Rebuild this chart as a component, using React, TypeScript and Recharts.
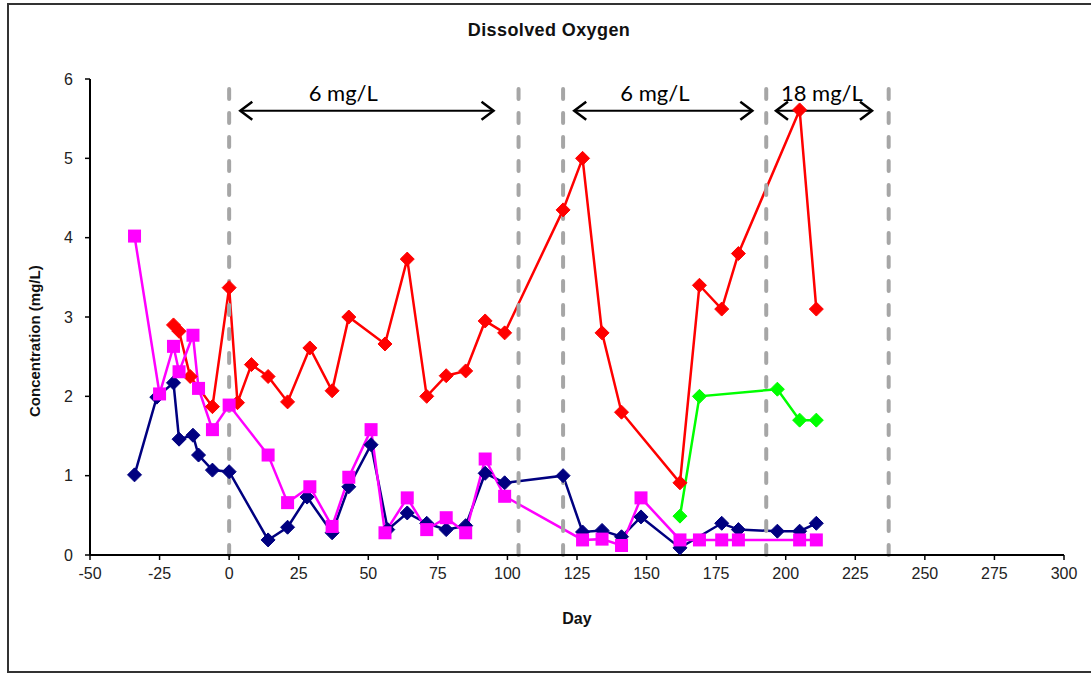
import React from "react";
import { LineChart, Line, XAxis, YAxis, ReferenceLine } from "recharts";

// days and values
const navyDays = [-34, -26, -20, -18, -13, -11, -6, 0, 14, 21, 28, 37, 43, 51, 57, 64, 71, 78, 85, 92, 99, 120, 127, 134, 141, 148, 162, 177, 183, 197, 205, 211];
const navyValues = [1.01, 1.99, 2.17, 1.46, 1.51, 1.26, 1.07, 1.05, 0.19, 0.35, 0.73, 0.28, 0.86, 1.39, 0.32, 0.53, 0.4, 0.32, 0.37, 1.03, 0.91, 1.0, 0.29, 0.31, 0.23, 0.48, 0.09, 0.4, 0.32, 0.3, 0.3, 0.4];

const redDays = [-20, -18, -14, -6, 0, 3, 8, 14, 21, 29, 37, 43, 56, 64, 71, 78, 85, 92, 99, 120, 127, 134, 141, 162, 169, 177, 183, 205, 211];
const redValues = [2.9, 2.82, 2.25, 1.87, 3.37, 1.92, 2.4, 2.25, 1.93, 2.61, 2.07, 3.0, 2.66, 3.73, 2.0, 2.26, 2.32, 2.95, 2.8, 4.35, 5.0, 2.8, 1.8, 0.91, 3.4, 3.1, 3.8, 5.61, 3.1];

const pinkDays = [-34, -25, -20, -18, -13, -11, -6, 0, 14, 21, 29, 37, 43, 51, 56, 64, 71, 78, 85, 92, 99, 127, 134, 141, 148, 162, 169, 177, 183, 205, 211];
const pinkValues = [4.02, 2.03, 2.63, 2.31, 2.77, 2.1, 1.58, 1.89, 1.26, 0.66, 0.86, 0.36, 0.98, 1.58, 0.28, 0.72, 0.32, 0.47, 0.28, 1.21, 0.74, 0.19, 0.2, 0.12, 0.72, 0.19, 0.19, 0.19, 0.19, 0.19, 0.19];

const greenDays = [162, 169, 197, 205, 211];
const greenValues = [0.49, 2.0, 2.09, 1.7, 1.7];

const phaseLines = [0, 104, 120, 193, 237];

const arrows = [
  { from: 4, to: 95, label: "6 mg/L", labelAt: 41 },
  { from: 124, to: 188, label: "6 mg/L", labelAt: 153 },
  { from: 196.5, to: 231, label: "18 mg/L", labelAt: 213 },
];
const arrowLevel = 5.6;

const xTicks = [-50, -25, 0, 25, 50, 75, 100, 125, 150, 175, 200, 225, 250, 275, 300];
const yTicks = [0, 1, 2, 3, 4, 5, 6];

const toRows = (days: number[], values: number[]) =>
  days.map((day, i) => ({ day, value: values[i] }));

const navy = toRows(navyDays, navyValues);
const red = toRows(redDays, redValues);
const pink = toRows(pinkDays, pinkValues);
const green = toRows(greenDays, greenValues);

const font = "'Liberation Sans', Arial, sans-serif";

const diamond = (color: string) => (props: any) => {
  const { cx, cy, index } = props;
  if (cx == null || cy == null) return <g key={index} />;
  const r = 7;
  return (
    <path
      key={index}
      d={`M${cx},${cy - r}L${cx + r},${cy}L${cx},${cy + r}L${cx - r},${cy}Z`}
      fill={color}
      stroke={color}
      strokeWidth={1}
    />
  );
};

const square = (color: string) => (props: any) => {
  const { cx, cy, index } = props;
  if (cx == null || cy == null) return <g key={index} />;
  const r = 6.5;
  return <rect key={index} x={cx - r} y={cy - r} width={2 * r} height={2 * r} fill={color} />;
};

const arrowShape = (a: { from: number; to: number; label: string; labelAt: number }) => (props: any) => {
  const { x1, y1, x2 } = props;
  if (x1 == null) return <g />;
  const pxPerDay = (x2 - x1) / (a.to - a.from);
  const tx = x1 + (a.labelAt - a.from) * pxPerDay;
  const y = y1;
  return (
    <g>
      <line x1={x1} y1={y} x2={x2} y2={y} stroke="#000" strokeWidth={2} />
      <path d={`M${x1 + 12},${y - 9}L${x1},${y}L${x1 + 12},${y + 9}`} fill="none" stroke="#000" strokeWidth={2.5} />
      <path d={`M${x2 - 12},${y - 9}L${x2},${y}L${x2 - 12},${y + 9}`} fill="none" stroke="#000" strokeWidth={2.5} />
      <text x={tx} y={y - 10} textAnchor="middle" fontFamily="Lato, 'Open Sans', sans-serif" fontSize={22} fill="#000">
        {a.label}
      </text>
    </g>
  );
};

const tickStyle = { fontFamily: font, fontSize: 16, fill: "#222" };

export default function App() {
  return (
    <div style={{ position: "absolute", left: 0, top: 0, width: 1091, height: 674, overflow: "hidden", background: "#fff" }}>
      <div
        style={{
          position: "absolute",
          left: 7,
          top: 3,
          width: 1100,
          height: 670,
          border: "2px solid #333",
          boxSizing: "border-box",
        }}
      />
      <div
        style={{
          position: "absolute",
          left: 0,
          width: 1098,
          top: 20,
          textAlign: "center",
          fontFamily: font,
          fontWeight: "bold",
          fontSize: 18,
          letterSpacing: 0.4,
          color: "#111",
        }}
      >
        Dissolved Oxygen
      </div>
      <div
        style={{
          position: "absolute",
          left: 0,
          top: 0,
          width: 1091,
          height: 674,
        }}
      >
        <LineChart width={1091} height={674} margin={{ top: 79, right: 27, bottom: 89, left: 60 }}>
          <XAxis
            xAxisId="main"
            type="number"
            dataKey="day"
            domain={[-50, 300]}
            ticks={xTicks}
            allowDataOverflow
            height={30}
            axisLine={{ stroke: "#000", strokeWidth: 2 }}
            tickLine={{ stroke: "#000", strokeWidth: 1.5 }}
            tickSize={5}
            tickMargin={8}
            tick={tickStyle}
            label={{ value: "Day", position: "bottom", offset: 28, style: { fontFamily: font, fontWeight: "bold", fontSize: 16, fill: "#111" } }}
          />
          <XAxis
            xAxisId="top"
            orientation="top"
            type="number"
            dataKey="day"
            domain={[-50, 300]}
            height={0}
            tick={false}
            tickLine={false}
            axisLine={{ stroke: "#888", strokeWidth: 3 }}
          />
          <YAxis
            yAxisId="main"
            type="number"
            domain={[0, 6]}
            ticks={yTicks}
            width={30}
            axisLine={{ stroke: "#000", strokeWidth: 2 }}
            tickLine={{ stroke: "#000", strokeWidth: 1.5 }}
            tickSize={5}
            tickMargin={12}
            tick={tickStyle}
            label={{
              value: "Concentration (mg/L)",
              angle: -90,
              position: "insideLeft",
              dx: -30,
              dy: 100,
              style: { fontFamily: font, fontWeight: "bold", fontSize: 15, fill: "#111" },
            }}
          />
          <YAxis
            yAxisId="right"
            orientation="right"
            type="number"
            domain={[0, 6]}
            width={0}
            tick={false}
            tickLine={false}
            axisLine={{ stroke: "#888", strokeWidth: 3 }}
          />
          <Line xAxisId="main" yAxisId="main" data={navy} dataKey="value" stroke="#000080" strokeWidth={2.5} dot={diamond("#000080")} activeDot={false} isAnimationActive={false} />
          <Line xAxisId="main" yAxisId="main" data={red} dataKey="value" stroke="#ff0000" strokeWidth={2.5} dot={diamond("#ff0000")} activeDot={false} isAnimationActive={false} />
          <Line xAxisId="main" yAxisId="main" data={pink} dataKey="value" stroke="#ff00ff" strokeWidth={2.5} dot={square("#ff00ff")} activeDot={false} isAnimationActive={false} />
          <Line xAxisId="main" yAxisId="main" data={green} dataKey="value" stroke="#00ff00" strokeWidth={2.5} dot={diamond("#00ff00")} activeDot={false} isAnimationActive={false} />
          {phaseLines.map((d) => (
            <ReferenceLine
              key={d}
              xAxisId="main"
              yAxisId="main"
              x={d}
              stroke="#a6a6a6"
              strokeWidth={4}
              strokeDasharray="10 14"
              strokeLinecap="round"
            />
          ))}
          {arrows.map((a) => (
            <ReferenceLine
              key={a.from}
              xAxisId="main"
              yAxisId="main"
              segment={[
                { x: a.from, y: arrowLevel },
                { x: a.to, y: arrowLevel },
              ]}
              ifOverflow="visible"
              shape={arrowShape(a)}
            />
          ))}
        </LineChart>
      </div>
    </div>
  );
}
